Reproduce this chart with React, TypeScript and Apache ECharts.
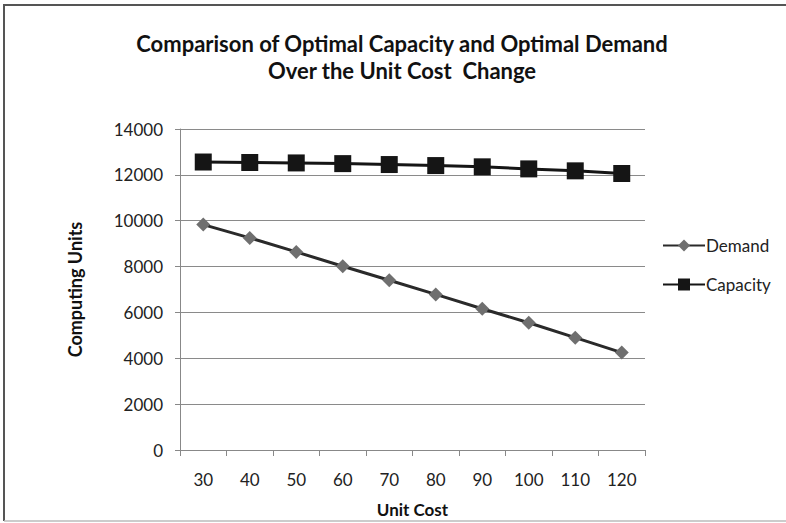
import React, { useEffect, useRef } from "react";
import * as echarts from "echarts";

const unitCost = ["30", "40", "50", "60", "70", "80", "90", "100", "110", "120"];
const demand = [9830, 9250, 8640, 8015, 7405, 6785, 6160, 5550, 4900, 4250];
const capacity = [12560, 12540, 12520, 12490, 12450, 12405, 12350, 12260, 12175, 12060];
const yTicks = { min: 0, max: 14000, interval: 2000 };

const FONT = "Lato, 'Open Sans', sans-serif";

export default function App() {
  const ref = useRef<HTMLDivElement>(null);
  useEffect(() => {
    if (!ref.current) return;
    const chart = echarts.init(ref.current, undefined, { renderer: "svg" });
    chart.setOption({
      animation: false,
      backgroundColor: "#ffffff",
      textStyle: { fontFamily: FONT },
      title: {
        text: "Comparison of Optimal Capacity and Optimal Demand\nOver the Unit Cost  Change",
        left: 397,
        textAlign: "center",
        top: 25,
        textStyle: { fontFamily: FONT, fontSize: 22, fontWeight: "bold", color: "#111", lineHeight: 27 },
      },
      legend: {
        orient: "vertical",
        left: 657,
        top: 232,
        itemGap: 22,
        itemWidth: 42,
        itemHeight: 15,
        textStyle: { fontFamily: FONT, fontSize: 17, color: "#222", padding: [0, 0, 0, -4] },
        data: ["Demand", "Capacity"],
      },
      grid: { left: 180, right: 141, top: 129, bottom: 72 },
      xAxis: {
        type: "category",
        data: unitCost,
        boundaryGap: true,
        name: "Unit Cost",
        nameLocation: "middle",
        nameGap: 51,
        nameTextStyle: { fontFamily: FONT, fontSize: 17, fontWeight: "bold", color: "#111" },
        axisLine: { lineStyle: { color: "#888", width: 1 } },
        axisTick: { show: true, length: 6, lineStyle: { color: "#888" } },
        axisLabel: { fontFamily: FONT, fontSize: 17, color: "#222", margin: 21 },
      },
      yAxis: {
        type: "value",
        min: yTicks.min,
        max: yTicks.max,
        interval: yTicks.interval,
        name: "Computing Units",
        nameLocation: "middle",
        nameGap: 96,
        nameTextStyle: { fontFamily: FONT, fontSize: 18, fontWeight: "bold", color: "#111" },
        axisLine: { show: true, lineStyle: { color: "#888", width: 1 } },
        axisTick: { show: true, length: 5, lineStyle: { color: "#888" } },
        axisLabel: {
          fontFamily: FONT,
          fontSize: 17,
          color: "#222",
          margin: 17,
          formatter: (v: number) => String(v),
        },
        splitLine: { show: true, lineStyle: { color: "#8a8a8a", width: 1 } },
      },
      series: [
        {
          name: "Demand",
          type: "line",
          data: demand,
          symbol: "diamond",
          symbolSize: 14,
          itemStyle: { color: "#6f6f6f" },
          lineStyle: { color: "#2a2a2a", width: 3 },
          z: 3,
        },
        {
          name: "Capacity",
          type: "line",
          data: capacity,
          symbol: "rect",
          symbolSize: 17,
          itemStyle: { color: "#151515" },
          lineStyle: { color: "#151515", width: 3 },
          z: 4,
        },
      ],
      graphic: [
        {
          type: "line",
          shape: { x1: 3, y1: 5, x2: 786, y2: 5 },
          style: { stroke: "#555", lineWidth: 2 },
          silent: true,
        },
        {
          type: "line",
          shape: { x1: 4, y1: 4, x2: 4, y2: 521 },
          style: { stroke: "#555", lineWidth: 2 },
          silent: true,
        },
        {
          type: "line",
          shape: { x1: 4, y1: 521, x2: 786, y2: 521 },
          style: { stroke: "#bbb", lineWidth: 1.5 },
          silent: true,
        },
      ],
    });
    return () => chart.dispose();
  }, []);
  return (
    <div
      ref={ref}
      style={{ position: "fixed", left: 0, top: 0, width: 786, height: 523 }}
    />
  );
}
